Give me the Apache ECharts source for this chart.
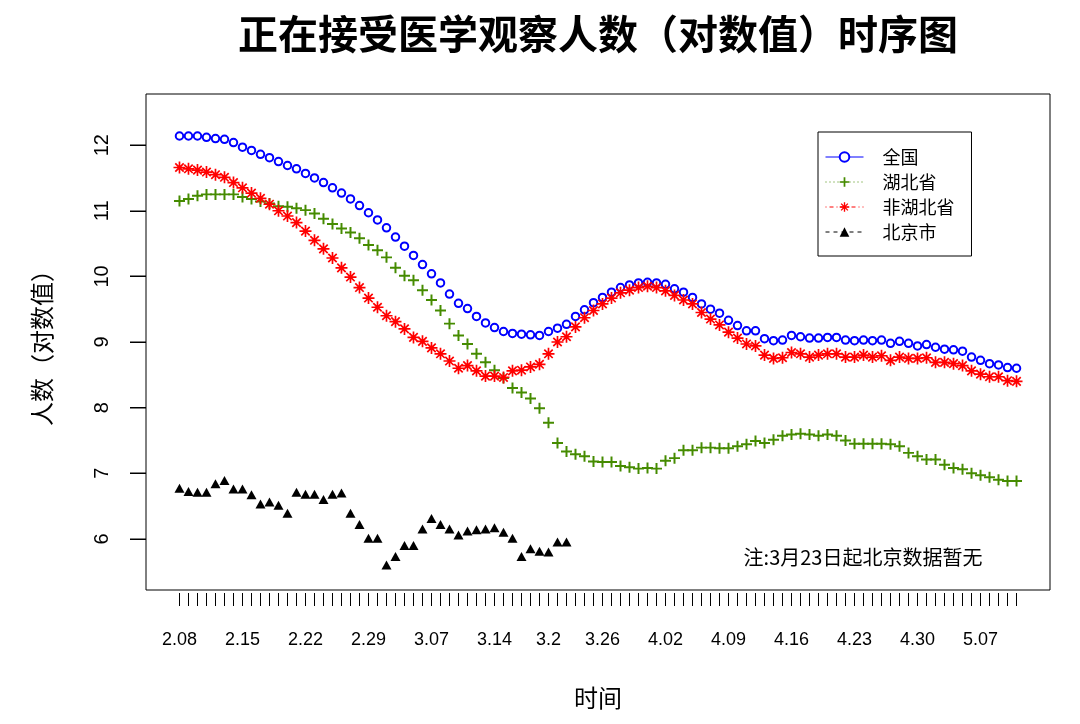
<!DOCTYPE html>
<html>
<head>
<meta charset="utf-8">
<title>正在接受医学观察人数（对数值）时序图</title>
<script src="https://cdn.jsdelivr.net/npm/echarts@6/dist/echarts.min.js"></script>
<style>
  html, body { margin: 0; padding: 0; background: #fff; }
  #chart { width: 1080px; height: 724px; }
</style>
</head>
<body>
<div id="chart"></div>
<script>
// one point per day, index 0 = 2.08
const tickIndex = [0, 7, 14, 21, 28, 35, 41, 47, 54, 61, 68, 75, 82, 89]
const tickLabels = ["2.08", "2.15", "2.22", "2.29", "3.07", "3.14", "3.2", "3.26", "4.02", "4.09", "4.16", "4.23", "4.30", "5.07"]
const yTicks = [6, 7, 8, 9, 10, 11, 12]

const national = [
  12.14, 12.14, 12.14, 12.12, 12.10, 12.09, 12.04, 11.97, 11.92, 11.86,
  11.81, 11.75, 11.69, 11.64, 11.57, 11.50, 11.43, 11.35, 11.27, 11.18,
  11.08, 10.97, 10.86, 10.74, 10.60, 10.46, 10.32, 10.18, 10.04, 9.90,
  9.73, 9.59, 9.51, 9.39, 9.29, 9.22, 9.16, 9.13, 9.12, 9.11,
  9.10, 9.16, 9.21, 9.27, 9.39, 9.49, 9.60, 9.68, 9.76, 9.83,
  9.87, 9.90, 9.91, 9.90, 9.88, 9.81, 9.76, 9.68, 9.58, 9.50,
  9.44, 9.33, 9.25, 9.17, 9.17, 9.05, 9.02, 9.03, 9.10, 9.08,
  9.06, 9.06, 9.07, 9.07, 9.03, 9.02, 9.03, 9.02, 9.03, 8.98,
  9.01, 8.98, 8.94, 8.96, 8.92, 8.89, 8.88, 8.86, 8.77, 8.72,
  8.67, 8.65, 8.61, 8.60
]
const hubei = [
  11.15, 11.18, 11.23, 11.25, 11.25, 11.25, 11.25, 11.21, 11.18, 11.14,
  11.11, 11.07, 11.06, 11.04, 11.01, 10.96, 10.88, 10.80, 10.73, 10.67,
  10.58, 10.48, 10.40, 10.29, 10.13, 10.01, 9.94, 9.79, 9.64, 9.48,
  9.28, 9.10, 8.97, 8.82, 8.69, 8.57, 8.45, 8.30, 8.23, 8.14,
  7.99, 7.77, 7.46, 7.33, 7.29, 7.26, 7.18, 7.17, 7.17, 7.11,
  7.09, 7.07, 7.08, 7.07, 7.19, 7.23, 7.35, 7.35, 7.39, 7.39,
  7.38, 7.38, 7.41, 7.44, 7.49, 7.46, 7.51, 7.57, 7.59, 7.60,
  7.59, 7.57, 7.59, 7.57, 7.50, 7.45, 7.45, 7.45, 7.45, 7.44,
  7.41, 7.31, 7.26, 7.21, 7.21, 7.13, 7.08, 7.06, 7.00, 6.97,
  6.94, 6.90, 6.88, 6.88
]
const nonHubei = [
  11.66, 11.64, 11.62, 11.59, 11.55, 11.51, 11.43, 11.35, 11.27, 11.19,
  11.10, 11.00, 10.92, 10.82, 10.69, 10.55, 10.42, 10.28, 10.13, 9.99,
  9.83, 9.67, 9.53, 9.40, 9.31, 9.20, 9.07, 9.01, 8.91, 8.82,
  8.71, 8.60, 8.64, 8.56, 8.48, 8.48, 8.46, 8.56, 8.57, 8.62,
  8.66, 8.82, 9.00, 9.08, 9.23, 9.37, 9.48, 9.58, 9.67, 9.75,
  9.79, 9.83, 9.85, 9.83, 9.78, 9.71, 9.64, 9.58, 9.45, 9.35,
  9.26, 9.15, 9.06, 8.97, 8.94, 8.80, 8.75, 8.76, 8.84, 8.82,
  8.77, 8.80, 8.82, 8.82, 8.77, 8.77, 8.80, 8.77, 8.79, 8.72,
  8.77, 8.75, 8.75, 8.76, 8.69, 8.69, 8.67, 8.64, 8.56, 8.51,
  8.47, 8.47, 8.41, 8.40
]
// no Beijing data from 3.23 on
const beijing = [
  6.77, 6.72, 6.71, 6.71, 6.84, 6.89, 6.76, 6.76, 6.67, 6.53,
  6.56, 6.51, 6.39, 6.71, 6.68, 6.68, 6.60, 6.68, 6.70, 6.39,
  6.22, 6.01, 6.01, 5.60, 5.73, 5.90, 5.90, 6.15, 6.31, 6.22,
  6.15, 6.06, 6.12, 6.14, 6.15, 6.17, 6.10, 6.01, 5.73, 5.85,
  5.81, 5.80, 5.95, 5.95
]

const cjk = "'Noto Sans CJK SC', sans-serif"
const latin = "'Liberation Sans', Arial, sans-serif"
const plusPath = "path://M-1.8,-10L1.8,-10L1.8,-1.8L10,-1.8L10,1.8L1.8,1.8L1.8,10L-1.8,10L-1.8,1.8L-10,1.8L-10,-1.8L-1.8,-1.8Z"
const starPath = "path://M-10,-1.4L10,-1.4L10,1.4L-10,1.4Z" +
  "M-1.4,-10L1.4,-10L1.4,10L-1.4,10Z" +
  "M-6,-8L8,6L6,8L-8,-6Z" +
  "M6,-8L8,-6L-6,8L-8,6Z"

// R-style 4% padding on each side of the day range
const pad = 3.72
const toPoints = (arr) => arr.map((v, i) => [i + pad, v])
const dayTicks = national.map((v, i) => i + pad)
const labelTicks = tickIndex.map((i) => i + pad)

const chart = echarts.init(document.getElementById("chart"))
const option = {
  animation: false,
  backgroundColor: "#fff",
  grid: {
    left: 146,
    right: 30,
    top: 94,
    bottom: 134,
    show: true,
    borderColor: "#000",
    borderWidth: 1,
    z: 0,
  },
  xAxis: {
    type: "value",
    min: 0,
    max: national.length - 1 + 2 * pad,
    offset: 3,
    axisLine: { show: false, onZero: false },
    splitLine: { show: false },
    axisTick: {
      show: true,
      customValues: dayTicks,
      length: 13,
      lineStyle: { color: "#000", width: 1 },
    },
    axisLabel: {
      customValues: labelTicks,
      margin: 38,
      color: "#000",
      fontSize: 18,
      fontFamily: latin,
      formatter: (v) => tickLabels[tickIndex.indexOf(Math.round(v - pad))],
    },
  },
  yAxis: {
    type: "value",
    min: 5.22,
    max: 12.78,
    z: 20,
    axisLine: { show: false, onZero: false },
    splitLine: { show: false },
    axisTick: {
      show: true,
      customValues: yTicks,
      length: 16,
      lineStyle: { color: "#000", width: 1 },
    },
    axisLabel: {
      customValues: yTicks,
      rotate: 90,
      margin: 34,
      color: "#000",
      fontSize: 20,
      fontFamily: latin,
    },
  },
  legend: {
    orient: "vertical",
    left: 818,
    top: 132,
    itemWidth: 38,
    itemHeight: 12,
    itemGap: 7,
    padding: [16, 17, 15, 7],
    borderColor: "#000",
    borderWidth: 1,
    borderRadius: 0,
    backgroundColor: "#fff",
    selectedMode: false,
    textStyle: { fontFamily: cjk, fontSize: 18, lineHeight: 18, color: "#000", padding: [0, 0, 0, 14] },
    data: [
      { name: "全国", lineStyle: { color: "#0000FF", width: 1, type: "solid" } },
      { name: "湖北省", lineStyle: { color: "#458B00", width: 1, type: [1, 3] } },
      { name: "非湖北省", lineStyle: { color: "#FF0000", width: 1, type: [1, 3, 4, 3] } },
      { name: "北京市", lineStyle: { color: "#000", width: 1, type: [4, 4] } },
    ],
  },
  series: [
    {
      // y-axis ticks, drawn left of the box at each labelled value
      type: "custom",
      silent: true,
      clip: false,
      z: 100,
      data: yTicks.map((t) => [0, t]),
      renderItem: (params, api) => {
        const p = api.coord([api.value(0), api.value(1)])
        return {
          type: "rect",
          shape: { x: p[0] - 16, y: Math.round(p[1]) - 0.5, width: 16, height: 1 },
          style: { fill: "#000" },
          z2: 100,
        }
      },
    },
    {
      name: "全国",
      type: "line",
      data: toPoints(national),
      symbol: "emptyCircle",
      symbolSize: 7.5,
      itemStyle: { color: "#0000FF", borderWidth: 1.3 },
      lineStyle: { width: 0 },
      emphasis: { disabled: true },
      z: 2,
    },
    {
      name: "湖北省",
      type: "line",
      data: toPoints(hubei),
      symbol: plusPath,
      symbolSize: 11,
      itemStyle: { color: "#458B00" },
      lineStyle: { width: 0 },
      emphasis: { disabled: true },
      z: 3,
    },
    {
      name: "非湖北省",
      type: "line",
      data: toPoints(nonHubei),
      symbol: starPath,
      symbolSize: 12,
      itemStyle: { color: "#FF0000" },
      lineStyle: { width: 0 },
      emphasis: { disabled: true },
      z: 4,
    },
    {
      name: "北京市",
      type: "line",
      data: toPoints(beijing),
      symbol: "triangle",
      symbolSize: [10, 9],
      itemStyle: { color: "#000" },
      lineStyle: { width: 0 },
      emphasis: { disabled: true },
      z: 5,
    },
  ],
  graphic: [
    {
      type: "text",
      x: 598,
      y: 34,
      style: {
        text: "正在接受医学观察人数（对数值）时序图",
        font: "bold 40px " + cjk,
        fill: "#000",
        align: "center",
        verticalAlign: "middle",
      },
    },
    {
      type: "text",
      x: 598,
      y: 698,
      style: { text: "时间", font: "24px " + cjk, fill: "#000", align: "center", verticalAlign: "middle" },
    },
    {
      type: "text",
      x: 42,
      y: 342,
      rotation: Math.PI / 2,
      style: { text: "人数（对数值）", font: "24px " + cjk, fill: "#000", align: "center", verticalAlign: "middle" },
    },
    {
      type: "text",
      x: 863,
      y: 557,
      style: { text: "注:3月23日起北京数据暂无", font: "20px " + cjk, fill: "#000", align: "center", verticalAlign: "middle" },
    },
  ],
}
chart.setOption(option)
</script>
</body>
</html>
